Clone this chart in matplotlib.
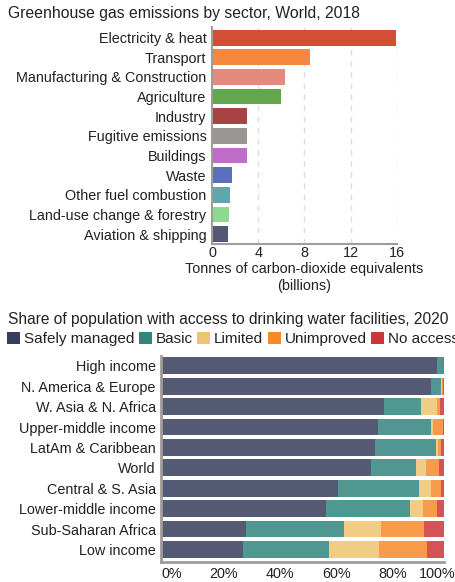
import matplotlib
matplotlib.use("Agg")
import matplotlib.pyplot as plt
import matplotlib.transforms as mtransforms
from matplotlib.patches import Patch
import numpy as np

plt.rcParams['font.family'] = ['Liberation Sans', 'DejaVu Sans']
FS = 10.4

# Greenhouse gas emissions by sector, World, 2018 (billion tonnes CO2e)
sectors = ["Electricity & heat", "Transport", "Manufacturing & Construction", "Agriculture",
           "Industry", "Fugitive emissions", "Buildings", "Waste", "Other fuel combustion",
           "Land-use change & forestry", "Aviation & shipping"]
emissions = [15.9, 8.5, 6.3, 6.0, 3.0, 3.0, 3.0, 1.7, 1.55, 1.45, 1.4]
sector_colors = ["#d44e37", "#f5873f", "#e48a7d", "#63a64e", "#a84343", "#9a9693",
                 "#c06cc9", "#5b70bc", "#5fa6ae", "#8fd88f", "#535877"]
ghg_ticks = [0, 4, 8, 12, 16]

# Share of population with access to drinking water facilities, 2020 (%)
regions = ["High income", "N. America & Europe", "W. Asia & N. Africa", "Upper-middle income",
           "LatAm & Caribbean", "World", "Central & S. Asia", "Lower-middle income",
           "Sub-Saharan Africa", "Low income"]
levels = ["Safely managed", "Basic", "Limited", "Unimproved", "No access"]
safely = [97.5, 95.5, 78.8, 76.7, 75.6, 74.2, 62.5, 58.3, 30.0, 28.9]
basic = [2.0, 3.4, 13.1, 18.6, 21.6, 15.9, 28.7, 29.7, 34.6, 30.4]
limited = [0.1, 0.3, 5.6, 0.7, 0.6, 3.5, 4.2, 4.6, 13.0, 17.7]
unimproved = [0.2, 0.5, 1.0, 3.5, 1.0, 4.6, 3.5, 4.9, 15.3, 17.0]
no_access = [0.2, 0.3, 1.5, 0.5, 1.2, 1.8, 1.1, 2.5, 7.1, 6.0]
level_colors = ["#373d5d", "#30857d", "#eec470", "#f6882a", "#cc3539"]
pct_ticks = [0, 20, 40, 60, 80, 100]

spine_col = "#a09c98"
txt_col = "#222222"

fig = plt.figure(figsize=(4.55, 5.82), dpi=100)

# ---- top chart
ax1 = fig.add_axes([212 / 455, 1 - 244.3 / 582, (396.7 - 212) / 455, (244.3 - 26.7) / 582])
y1 = np.arange(len(sectors))
ax1.barh(y1, emissions, height=0.8, color=sector_colors, zorder=2)
ax1.set_ylim(len(sectors) - 0.48, -0.56)
ax1.set_xlim(0, 16)
ax1.set_yticks(y1)
ax1.set_yticklabels(sectors)
ax1.set_xticks(ghg_ticks)
ax1.xaxis.grid(True, color="#dddddd", linestyle=(0, (4, 4)), linewidth=1, zorder=0)
for s in ["top", "right"]:
    ax1.spines[s].set_visible(False)
for s in ["left", "bottom"]:
    ax1.spines[s].set_color(spine_col)
    ax1.spines[s].set_linewidth(1.5)
ax1.tick_params(axis="both", length=0, labelsize=FS, labelcolor=txt_col)
ax1.tick_params(axis="y", pad=4)
ax1.tick_params(axis="x", pad=1.5)
ax1.set_xlabel("Tonnes of carbon-dioxide equivalents\n(billions)", fontsize=FS,
               color=txt_col, labelpad=1, linespacing=1.25)
fig.text(8 / 455, 1 - 13.5 / 582, "Greenhouse gas emissions by sector, World, 2018",
         fontsize=11.35, color=txt_col, va="center", ha="left")

# ---- bottom chart
ax2 = fig.add_axes([161.3 / 455, 1 - 561.7 / 582, (444 - 161.3) / 455, (561.7 - 356.2) / 582])
y2 = np.arange(len(regions))
left = np.zeros(len(regions))
for vals, col, name in zip([safely, basic, limited, unimproved, no_access], level_colors, levels):
    ax2.barh(y2, vals, left=left, height=0.82, color=col, alpha=0.85, label=name, zorder=2)
    left += np.array(vals)
ax2.set_ylim(len(regions) - 0.4, -0.47)
ax2.set_xlim(0, 100)
ax2.set_yticks(y2)
ax2.set_yticklabels(regions)
ax2.set_xticks(pct_ticks)
ax2.set_xticklabels([f"{t}%" for t in pct_ticks])
for s in ["top", "right"]:
    ax2.spines[s].set_visible(False)
for s in ["left", "bottom"]:
    ax2.spines[s].set_color(spine_col)
    ax2.spines[s].set_linewidth(2)
ax2.tick_params(axis="both", length=0, labelsize=FS, labelcolor=txt_col)
ax2.tick_params(axis="y", pad=4)
ax2.tick_params(axis="x", pad=4)
offset = mtransforms.ScaledTranslation(5.5 / 100, 0, fig.dpi_scale_trans)
xlabels = ax2.get_xticklabels()
for lab in xlabels[1:-1]:
    lab.set_transform(lab.get_transform() + offset)
xlabels[0].set_horizontalalignment("left")
xlabels[-1].set_horizontalalignment("right")
xlabels[-1].set_transform(xlabels[-1].get_transform() + mtransforms.ScaledTranslation(11 / 100, 0, fig.dpi_scale_trans))

fig.text(8 / 455, 1 - 319 / 582, "Share of population with access to drinking water facilities, 2020",
         fontsize=11.2, color=txt_col, va="center", ha="left")
handles = [Patch(facecolor=c, edgecolor="none") for c in level_colors]
fig.legend(handles, levels, loc="center left", bbox_to_anchor=(7 / 455, 1 - 339 / 582),
           ncol=5, frameon=False, fontsize=11.0, handlelength=0.85, handleheight=0.85,
           handletextpad=0.25, columnspacing=0.3, borderpad=0, borderaxespad=0,
           labelcolor=txt_col)

fig.savefig("out.png", dpi=100)
